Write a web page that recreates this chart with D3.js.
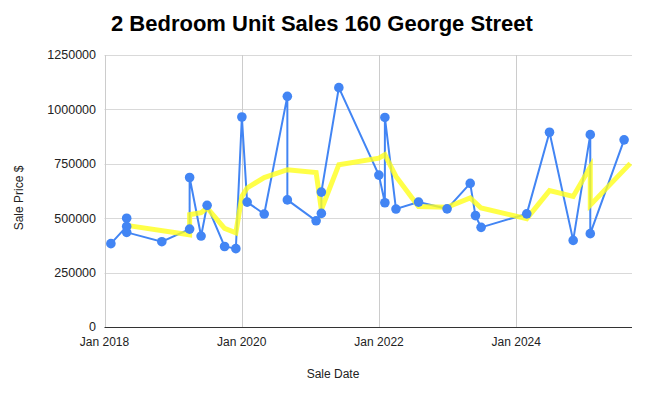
<!DOCTYPE html>
<html>
<head>
<meta charset="utf-8">
<script src="https://cdn.jsdelivr.net/npm/d3@7"></script>
<style>
  body { margin: 0; background: #fff; }
  text { font-family: Arial, "Liberation Sans", sans-serif; }
</style>
</head>
<body>
<div id="chart"></div>
<script>
// sale dates and prices (blue series), in order of sale
const saleDates = [
  "2018-02-04", "2018-04-29", "2018-04-29", "2018-04-29", "2018-11-02",
  "2019-03-30", "2019-03-30", "2019-05-30", "2019-07-01", "2019-10-02",
  "2019-12-01", "2020-01-02", "2020-01-30", "2020-04-30", "2020-08-31",
  "2020-08-31", "2021-01-31", "2021-02-28", "2021-02-28", "2021-06-01",
  "2021-12-31", "2022-02-01", "2022-02-01", "2022-04-01", "2022-07-30",
  "2022-12-29", "2023-05-01", "2023-05-29", "2023-06-28", "2024-02-26",
  "2024-06-26", "2024-10-30", "2025-01-29", "2025-01-29", "2025-07-28"
];
const salePrices = [
  383000, 462000, 500000, 435000, 392000,
  450000, 687000, 418000, 559000, 370000,
  360000, 965000, 574000, 519000, 1060000,
  584000, 488000, 522000, 620000, 1100000,
  698000, 571000, 963000, 542000, 574000,
  543000, 660000, 512000, 458000, 520000,
  895000, 398000, 884000, 429000, 860000
];

// trend (yellow series)
const trendDates = [
  "2018-04-29", "2019-03-30", "2019-03-30", "2019-05-30", "2019-07-01",
  "2019-10-02", "2019-12-01", "2020-01-02", "2020-01-30", "2020-04-30",
  "2020-08-31", "2021-01-31", "2021-02-28", "2021-06-01", "2021-12-31",
  "2022-02-01", "2022-04-01", "2022-07-30", "2022-12-29", "2023-05-01",
  "2023-06-28", "2024-02-26", "2024-06-26", "2024-10-30", "2025-01-29",
  "2025-01-29", "2025-08-30"
];
const trendPrices = [
  467000, 424000, 516000, 525000, 547000,
  453000, 433000, 600000, 639000, 687000,
  723000, 710000, 539000, 746000, 776000,
  792000, 692000, 554000, 550000, 593000,
  547000, 498000, 627000, 600000, 735000,
  560000, 752000
];

const yTicks = [0, 250000, 500000, 750000, 1000000, 1250000];
const xTicks = ["2018-01-01", "2020-01-01", "2022-01-01", "2024-01-01"];

const width = 648, height = 396;
const plot = { left: 104.5, right: 632, top: 55, bottom: 327 };

const parse = d3.timeParse("%Y-%m-%d");
const sales = saleDates.map((d, i) => ({ date: parse(d), value: salePrices[i] }));
const trend = trendDates.map((d, i) => ({ date: parse(d), value: trendPrices[i] }));

const x = d3.scaleTime()
  .domain([parse("2018-01-01"), parse("2025-09-08")])
  .range([plot.left, plot.right]);
const y = d3.scaleLinear().domain([0, 1250000]).range([plot.bottom, plot.top]);

const svg = d3.select("#chart").append("svg")
  .attr("width", width)
  .attr("height", height);

// gridlines
svg.append("g")
  .selectAll("line")
  .data(yTicks.slice(1))
  .join("line")
  .attr("x1", plot.left).attr("x2", plot.right)
  .attr("y1", d => Math.round(y(d)) + 0.5).attr("y2", d => Math.round(y(d)) + 0.5)
  .attr("stroke", "#d9d9d9");

svg.append("g")
  .selectAll("line")
  .data(xTicks.map(parse))
  .join("line")
  .attr("x1", d => Math.round(x(d)) + 0.5).attr("x2", d => Math.round(x(d)) + 0.5)
  .attr("y1", plot.top).attr("y2", plot.bottom)
  .attr("stroke", "#cccccc");

// baseline
svg.append("line")
  .attr("x1", plot.left).attr("x2", plot.right)
  .attr("y1", Math.round(y(0)) + 0.5).attr("y2", Math.round(y(0)) + 0.5)
  .attr("stroke", "#333");

// y tick labels
svg.append("g")
  .selectAll("text")
  .data(yTicks)
  .join("text")
  .attr("x", 96)
  .attr("y", d => y(d))
  .attr("dy", "0.35em")
  .attr("text-anchor", "end")
  .attr("font-size", 12.5)
  .attr("fill", "#222")
  .text(d => d);

// x tick labels
const fmt = d3.timeFormat("%b %Y");
svg.append("g")
  .selectAll("text")
  .data(xTicks.map(parse))
  .join("text")
  .attr("x", d => x(d))
  .attr("y", 346)
  .attr("text-anchor", "middle")
  .attr("font-size", 12)
  .attr("fill", "#222")
  .text(d => fmt(d));

// axis titles
svg.append("text")
  .attr("x", 333).attr("y", 378)
  .attr("text-anchor", "middle")
  .attr("font-size", 12)
  .attr("fill", "#222")
  .text("Sale Date");

svg.append("text")
  .attr("transform", "translate(23,198) rotate(-90)")
  .attr("text-anchor", "middle")
  .attr("font-size", 12)
  .attr("fill", "#222")
  .text("Sale Price $");

// title
svg.append("text")
  .attr("x", 111).attr("y", 31)
  .attr("font-size", 22)
  .attr("font-weight", "bold")
  .attr("fill", "#000")
  .text("2 Bedroom Unit Sales 160 George Street");

const line = d3.line().x(d => x(d.date)).y(d => y(d.value));

// blue series line
svg.append("path")
  .datum(sales)
  .attr("d", line)
  .attr("fill", "none")
  .attr("stroke", "#4285f4")
  .attr("stroke-width", 2);

// yellow trend line
svg.append("path")
  .datum(trend)
  .attr("d", line)
  .attr("fill", "none")
  .attr("stroke", "#ffff1a")
  .attr("stroke-opacity", 0.8)
  .attr("stroke-width", 5);

// blue points
svg.append("g")
  .selectAll("circle")
  .data(sales)
  .join("circle")
  .attr("cx", d => x(d.date))
  .attr("cy", d => y(d.value))
  .attr("r", 4.8)
  .attr("fill", "#4285f4");
</script>
</body>
</html>
